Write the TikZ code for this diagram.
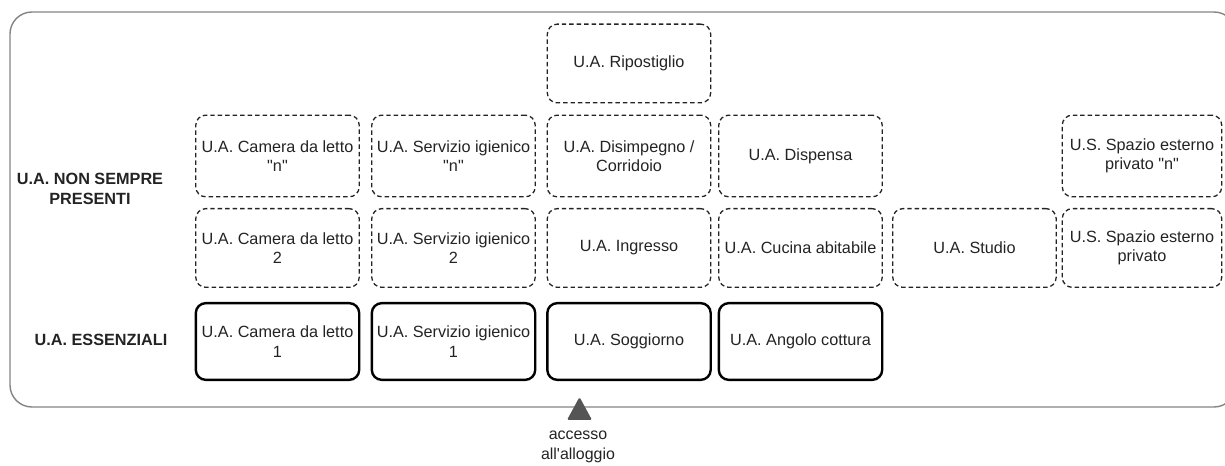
\documentclass[tikz,border=0pt]{standalone}
\usepackage{fontspec}
\setmainfont{Liberation Sans}[Ligatures=TeXOff]
\definecolor{ink}{RGB}{35,35,35}
\definecolor{framegray}{RGB}{135,130,130}
\definecolor{arrowgray}{RGB}{85,85,85}
\tikzset{
  unit/.style={rounded corners=10, minimum width=164, minimum height=79,
    inner sep=0pt, align=center, text=ink,
    font=\fontsize{16.3}{19.5}\selectfont},
  optional/.style={unit, draw=ink, line width=1.3,
    dash pattern=on 4.5 off 3},
  essential/.style={unit, draw=black, line width=2.4},
  rowlabel/.style={align=center, text=ink,
    font=\fontsize{16.3}{19.5}\selectfont\bfseries},
  frame/.style={draw=framegray, line width=1.4, rounded corners=22},
}
\begin{document}
\begin{tikzpicture}[x=1bp, y=-1bp]
\useasboundingbox (0,0) rectangle (1225,466);
\clip (0,0) rectangle (1225,466);

% outer frame (its right side runs past the page edge)
\draw[frame] (10,12) rectangle (1236,407);

% row labels
\node[rowlabel] (lblopt) at (90,189) {U.A. NON SEMPRE\\PRESENTI};
\node[rowlabel] (lbless) at (101,340) {U.A. ESSENZIALI};

% top row
\node[optional] (ripost) at (629,63.5) {U.A. Ripostiglio};

% optional units, "n" row
\node[optional, minimum height=82] (camn)  at (277.5,156) {U.A. Camera da letto\\"n"};
\node[optional, minimum height=82] (servn) at (453.5,156) {U.A. Servizio igienico\\"n"};
\node[optional, minimum height=82] (disimp) at (629,156) {U.A. Disimpegno /\\Corridoio};
\node[optional, minimum height=82] (disp)  at (800.5,156) {U.A. Dispensa};
\node[optional, minimum height=82, minimum width=160] (spazn) at (1142,156) {U.S. Spazio esterno\\privato "n"};

% optional units, second row
\node[optional] (cam2)  at (277.5,248) {U.A. Camera da letto\\2};
\node[optional] (serv2) at (453.5,248) {U.A. Servizio igienico\\2};
\node[optional] (ingr)  at (629,248) {U.A. Ingresso};
\node[optional] (cuc)   at (800.5,248) {U.A. Cucina abitabile};
\node[optional] (stud)  at (974.5,248) {U.A. Studio};
\node[optional, minimum width=160] (spaz) at (1142,248) {U.S. Spazio esterno\\privato};

% essential units
\node[essential, minimum height=77] (cam1)  at (277.5,341.5) {U.A. Camera da letto\\1};
\node[essential, minimum height=77] (serv1) at (453.5,341.5) {U.A. Servizio igienico\\1};
\node[essential, minimum height=77] (sogg)  at (629,341.5) {U.A. Soggiorno};
\node[essential, minimum height=77] (ang)   at (800.5,341.5) {U.A. Angolo cottura};

% entrance marker
\fill[arrowgray, rounded corners=1.5] (579.5,397) -- (592,420) -- (567,420) -- cycle;
\node[align=center, text=ink, font=\fontsize{16}{19.5}\selectfont] (acc) at (578,447) {accesso\\all'alloggio};
\end{tikzpicture}
\end{document}
